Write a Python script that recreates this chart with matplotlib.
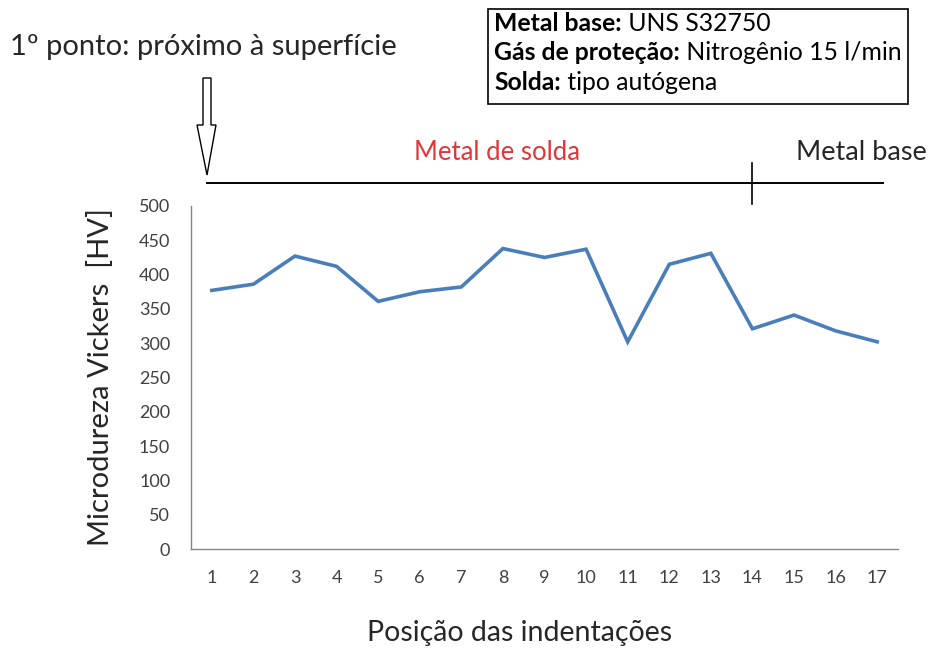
import matplotlib
matplotlib.use("Agg")
import matplotlib.pyplot as plt
from matplotlib.patches import Polygon, Rectangle
from matplotlib.lines import Line2D

positions = list(range(1, 18))
hardness = [377, 386, 427, 412, 361, 375, 382, 438, 425, 437, 302, 415, 431, 321, 341, 318, 302]
y_ticks = [0, 50, 100, 150, 200, 250, 300, 350, 400, 450, 500]

FONT = "Lato"
plt.rcParams['font.family'] = [FONT, 'DejaVu Sans']

W, H = 932, 648
fig = plt.figure(figsize=(W / 100, H / 100), dpi=100)

left, right, bottom, top = 191, 898, 549, 206
ax = fig.add_axes([left / W, 1 - bottom / H, (right - left) / W, (bottom - top) / H])
ax.plot(positions, hardness, color="#4A7EBB", lw=2.6, solid_joinstyle="miter")
ax.set_xlim(0.5, 17.5)
ax.set_ylim(0, 500)
ax.set_yticks(y_ticks)
ax.set_xticks(positions)
ax.set_xticklabels([str(p) for p in positions])
ax.tick_params(length=0, labelsize=13, colors="#404040")
ax.tick_params(axis="x", pad=15)
ax.tick_params(axis="y", pad=15)
for s in ["top", "right"]:
    ax.spines[s].set_visible(False)
for s in ["left", "bottom"]:
    ax.spines[s].set_color("#868686")
    ax.spines[s].set_linewidth(1.0)
ax.set_ylabel("Microdureza Vickers  [HV]", fontsize=21, color="#262626", labelpad=18)

# overlay in pixel coordinates for the annotations
ov = fig.add_axes([0, 0, 1, 1], zorder=5)
ov.set_xlim(0, W)
ov.set_ylim(H, 0)
ov.axis("off")

ov.text(520, 633, "Posição das indentações", fontsize=20.5, color="#262626",
        ha="center", va="center")
ov.text(10, 47, "1º ponto: próximo à superfície", fontsize=21, color="#262626",
        va="center", ha="left")
ov.add_line(Line2D([207, 883], [183, 183], color="black", lw=1.4))
ov.add_line(Line2D([752, 752], [163, 204], color="black", lw=1.2))
ov.text(497, 152, "Metal de solda", fontsize=18.5, color="#E0363A", ha="center", va="center")
ov.text(861, 152, "Metal base", fontsize=19.5, color="#262626", ha="center", va="center")

arrow = Polygon([(203, 78), (211, 78), (211, 125), (216, 125), (207, 175),
                 (197, 125), (203, 125)], closed=True, fill=False,
                edgecolor="black", lw=1.0)
ov.add_patch(arrow)

ov.add_patch(Rectangle((488, 9), 420, 95, fill=False, edgecolor="black", lw=1.2))
lines = [("Metal base:", " UNS S32750"),
         ("Gás de proteção:", " Nitrogênio 15 l/min"),
         ("Solda:", " tipo autógena")]
for i, (b, n) in enumerate(lines):
    y = 23.5 + i * 29.5
    t = ov.text(494, y, b, fontsize=17.8, fontweight="bold", color="black", va="center")
    fig.canvas.draw()
    bb = t.get_window_extent()
    x_end = bb.x1
    ov.annotate(n, xy=(x_end, H - y), xycoords="figure pixels", fontsize=17.8,
                color="black", va="center", ha="left")

fig.savefig("out.png", dpi=100)
